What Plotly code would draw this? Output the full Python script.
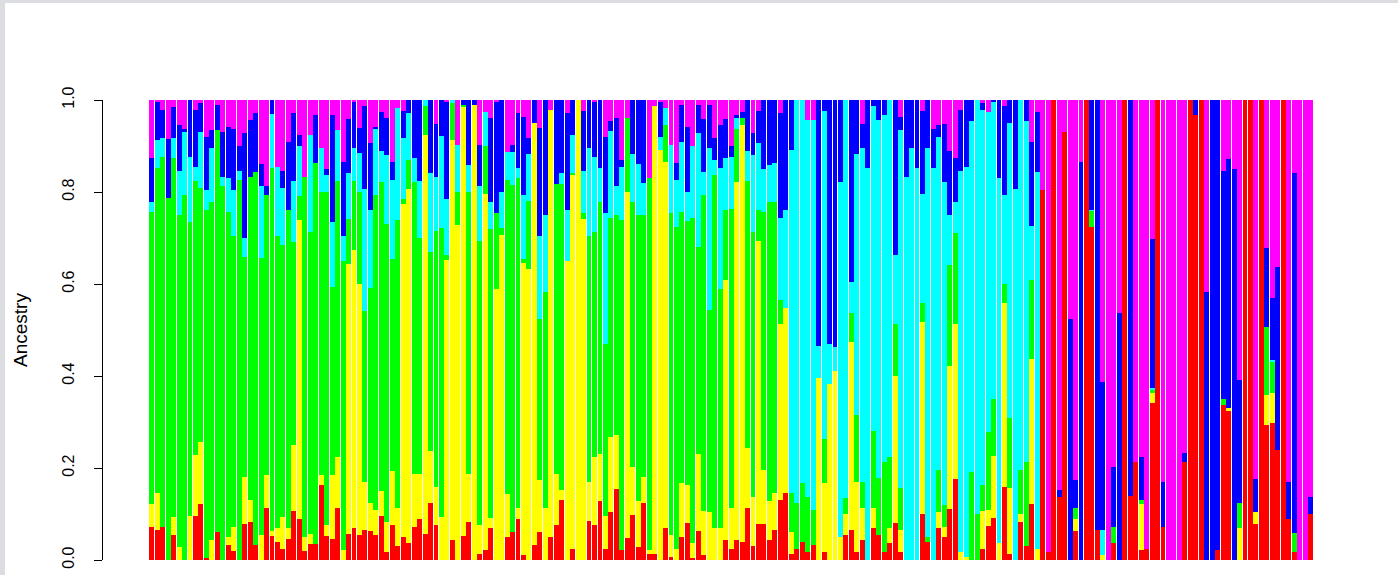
import plotly.graph_objects as go

# cumulative upper boundaries of each ancestry component (stack order bottom->top:
# red, yellow, green, cyan, blue, magenta), one value per individual
red_top = [
    .071, .065, .072, 0, .054, 0, 0, 0, .096, .121,
    .004, 0, .060, 0, .033, .020, 0, .078, .083, .033,
    0, .114, .052, .040, .023, .045, .107, .089, .020, .035,
    .034, .162, .052, .045, .114, 0, .056, .070, .054, .065,
    .063, .054, .096, .018, .076, .031, .049, .036, .072, .089,
    .056, .125, .076, 0, 0, .043, 0, .053, .082, 0,
    .012, .022, .069, 0, 0, .049, .060, .089, .011, 0,
    .033, .060, 0, .051, .076, .130, 0, .024, 0, 0,
    .085, .076, .128, .024, .105, .154, .022, .047, .098, .029,
    .123, .014, .014, 0, .070, .007, 0, .051, .080, .004,
    .062, .011, 0, 0, 0, .043, .024, .043, .040, .114,
    .031, .078, .078, .043, .065, .130, .145, .012, .025, .040,
    .017, .033, 0, .017, 0, 0, 0, .054, .065, .018,
    .043, 0, .070, .054, .017, .036, .080, .017, 0, 0,
    0, .099, .040, 0, .070, .049, .111, .176, 0, 0,
    0, 0, .025, .075, .091, 0, .159, .014, 0, .082,
    .031, .121, 0, .804, .017, 1, .138, .930, 0, .063,
    0, 1, .725, .065, 0, 0, .036, 0, 1, .140,
    .214, .022, .025, .341, 1, .072, 0, 0, 0, .214,
    1, .967, 1, 0, 0, .022, .337, .326, 0, 0,
    1, 1, .078, 1, .293, .297, .239, 1, .089, .017,
    0, 0, .099,
]

yellow_top = [
    .121, .145, .072, 0, .094, .029, 0, .096, .228, .257,
    .004, .043, .060, 0, .050, .072, 0, .181, .130, .033,
    .054, .185, .062, .070, .094, .070, .251, .739, .051, .056,
    .034, .185, .076, .185, .225, .022, .643, .674, .601, .169,
    .123, .109, .150, .083, .193, .114, .773, .807, .186, .186,
    .924, .236, .159, .094, .652, .913, .728, .986, .188, .989,
    .076, .795, .092, .589, .707, .143, .060, .114, .645, .633,
    .951, .174, .114, .978, .188, .152, .649, .836, 1, .741,
    .169, .225, .230, .096, .268, .272, .022, .801, .203, .128,
    .181, .022, .988, .891, .866, .054, .025, .167, .164, .036,
    .230, .107, .105, .069, .069, .609, .112, .821, .946, .243,
    .136, .693, .196, .128, .145, .514, .547, .060, .025, .040,
    .017, .033, .396, .167, .382, .411, .051, .099, .473, .170,
    .112, 0, .114, .054, .017, .070, .399, .065, 0, 0,
    0, .518, .040, 0, .105, .071, .422, .512, .017, .007,
    0, 0, .107, .109, .227, .036, .558, .156, 0, .101,
    .031, .438, .024, .804, .017, 1, .138, .930, 0, .089,
    0, 1, .725, .065, .011, 0, .036, 0, 1, .140,
    .214, .121, .025, .362, 1, .072, 0, 0, 0, .214,
    1, .967, 1, 0, 0, .022, .337, .330, 0, .070,
    1, 1, .105, 1, .359, .364, .239, 1, .089, .017,
    0, 0, .099,
]

green_top = [
    .756, .853, .877, .786, .873, .750, .794, .735, .824, .808,
    .761, .778, .935, .812, .756, .705, .826, .659, .833, .844,
    .656, .793, .853, .705, .685, .761, .691, .792, .833, .714,
    .862, .801, .801, .594, .824, .649, .741, .824, .801, .541,
    .591, .793, .821, .730, .654, .739, .785, .870, .821, .699,
    .986, .670, .715, .721, .663, .993, .801, .990, .799, .989,
    .694, .899, .720, .754, .721, .826, .815, .831, .654, .780,
    .951, .524, .582, .978, .817, .817, .649, .841, 1, .754,
    .705, .712, .778, .469, .744, .750, .739, .960, .779, .749,
    .750, .830, .988, .891, .946, .754, .724, .756, .737, .744,
    .681, .793, .543, .837, .589, .761, .764, .938, .960, .824,
    .712, .761, .757, .778, .779, .565, .547, .145, .123, .167,
    .138, .109, .396, .264, .382, .411, .051, .134, .536, .315,
    .170, 0, .280, .179, .212, .225, .512, .156, 0, 0,
    0, .558, .051, 0, .196, .120, .641, .710, .017, .007,
    .191, .099, .162, .278, .351, .036, .601, .308, 0, .196,
    .212, .609, .024, .804, .017, 1, .138, .930, 0, .112,
    0, 1, .759, .065, .011, 0, .072, 0, 1, .140,
    .214, .130, .025, .370, 1, .072, 0, 0, 0, .214,
    1, .967, 1, 0, 0, .022, .351, .330, 0, .125,
    1, 1, .105, 1, .507, .431, .239, 1, .089, .058,
    0, 0, .099,
]

cyan_top = [
    .779, .913, .917, .786, .917, .846, .931, .876, .855, .931,
    .804, .896, .935, .833, .831, .804, .846, .701, .833, .844,
    .812, .793, .969, .855, .809, .761, .824, .901, .833, .925,
    .862, .895, .836, .734, .935, .705, .841, .896, .884, .807,
    .761, .938, .889, .880, .826, .983, .917, .971, .873, .824,
    1, .841, .833, .922, .784, 1, .902, .990, .859, .989,
    .812, .973, .778, .754, .801, .888, .886, .853, .793, .882,
    .951, .705, .750, .978, .817, .841, .761, .925, 1, .846,
    .896, .877, .853, .754, .933, .812, .855, .960, .882, .860,
    .819, .830, .988, .920, .983, .902, .826, .909, .801, .899,
    .928, .844, .896, .870, .853, .873, .877, .960, .960, .889,
    .880, .906, .851, .859, .862, .744, .761, .891, 1, 1,
    .957, .957, .465, .976, .469, .462, .821, 1, .604, .882,
    .896, .853, .986, .957, .967, 1, .663, .935, .833, .895,
    .853, .795, .895, .853, .920, .821, .749, .779, .846, .855,
    .954, 1, .978, .975, .996, .830, .793, .951, .807, 1,
    .954, .727, .843, .804, .017, 1, .138, .930, 0, .112,
    0, 1, .761, .065, .065, 0, .072, 0, 1, .140,
    .214, .130, .025, .375, 1, .072, 0, 0, 0, .214,
    1, .967, 1, 0, 0, .022, .351, .330, 0, .125,
    1, 1, .105, 1, .507, .435, .239, 1, .089, .058,
    0, 0, .099,
]

blue_top = [
    .875, .996, .978, .915, .985, .946, .938, 1, .978, .993,
    .920, .935, .990, .931, .942, .938, .899, .928, .957, .971,
    .860, .814, 1, .855, .846, .908, .971, .925, .833, .925,
    .967, .895, .850, .967, .935, .866, .959, .996, .940, .988,
    .906, .942, .975, .960, .866, .983, .976, 1, 1, 1,
    1, 1, .947, 1, .996, 1, .902, 1, 1, 1,
    .903, .973, .960, .996, 1, .888, .902, .971, .962, .917,
    1, .940, 1, .978, 1, 1, .971, 1, 1, .976,
    1, .996, 1, .920, .954, .960, .870, .960, 1, 1,
    1, .830, .988, .996, .983, .902, .862, .990, .942, .899,
    .990, .959, .989, .917, .946, .959, .899, .967, .974, 1,
    .928, .976, 1, 1, 1, .971, 1, 1, 1, 1,
    .957, .957, 1, 1, 1, 1, 1, 1, 1, 1,
    .947, 1, 1, 1, 1, 1, 1, .962, 1, 1,
    1, .976, 1, .938, .946, .947, .889, .875, .978, 1,
    1, 1, .993, .975, 1, 1, .986, 1, 1, 1,
    1, .908, .973, .804, .017, 1, .152, .930, .524, .174,
    .866, 1, 1, 1, .386, 0, .203, .538, 1, 1,
    .214, .225, .025, .697, 1, .169, 0, 0, 0, .232,
    1, 1, 1, .583, 1, 1, .846, .872, .851, .391,
    1, 1, .176, 1, .679, .569, .638, 1, .169, .841,
    0, 0, .136,
]

y_tick_vals = [0.0, 0.2, 0.4, 0.6, 0.8, 1.0]
y_tick_text = ["0.0", "0.2", "0.4", "0.6", "0.8", "1.0"]
y_label = "Ancestry"
component_colors = ["#FF0000", "#FFFF00", "#00FF00", "#00FFFF", "#0000FF", "#FF00FF"]

n = len(red_top)
for lst in (yellow_top, green_top, cyan_top, blue_top):
    assert len(lst) == n, len(lst)

bounds = [[0.0] * n, red_top, yellow_top, green_top, cyan_top, blue_top, [1.0] * n]
components = []
for j in range(6):
    components.append([max(0.0, bounds[j + 1][i] - bounds[j][i]) for i in range(n)])

individuals = list(range(n))

fig = go.Figure()
for j in range(6):
    fig.add_trace(go.Bar(
        x=individuals, y=components[j], marker_color=component_colors[j],
        marker_line_width=0, showlegend=False, hoverinfo="skip",
    ))

W, H = 1398, 575
ML, MR, MT, MB = 103, 38, 100, 15
PW = W - ML - MR
PH = H - MT - MB

# plot area: left edge = y-axis line (x=103px), bars from 149 to 1313 px
pitch = (1313.3 - 149.0) / n
x_min = -0.5 - (149.0 - ML) / pitch
x_max = x_min + PW / pitch

fig.update_layout(
    width=W, height=H, autosize=False,
    margin=dict(l=ML, r=MR, t=MT, b=MB, pad=0, autoexpand=False),
    barmode="stack", bargap=0.1,
    plot_bgcolor="white", paper_bgcolor="white",
    font=dict(family="Liberation Sans, Arial, sans-serif", color="black"),
    xaxis=dict(range=[x_min, x_max], visible=False, fixedrange=True),
    yaxis=dict(
        range=[0, 1], tickvals=y_tick_vals, ticktext=y_tick_text,
        ticks="outside", ticklen=8, tickwidth=1, tickcolor="black",
        showline=True, linecolor="black", linewidth=1, automargin=False,
        showgrid=False, zeroline=False, tickangle=-90, fixedrange=True,
        tickfont=dict(size=16, color="black"), ticklabelstandoff=14,
    ),
    annotations=[dict(
        text=y_label, xref="paper", yref="paper", x=(20 - ML) / PW, y=0.5,
        textangle=-90, showarrow=False, font=dict(size=19, color="black"),
        xanchor="center", yanchor="middle",
    )],
    shapes=[
        dict(type="rect", xref="paper", yref="paper", x0=-ML / PW, x1=(5 - ML) / PW,
             y0=-MB / PH, y1=(PH + MT) / PH, fillcolor="#dcdde0", line_width=0, layer="above"),
        dict(type="rect", xref="paper", yref="paper", x0=-ML / PW, x1=(W - ML) / PW,
             y0=(PH + MT - 3) / PH, y1=(PH + MT) / PH, fillcolor="#dcdde0", line_width=0, layer="above"),
    ],
)

fig.write_html(
    "out.html",
    config={"displayModeBar": False, "responsive": False},
    post_script="document.body.style.margin='0px';document.body.style.overflow='hidden';",
)
